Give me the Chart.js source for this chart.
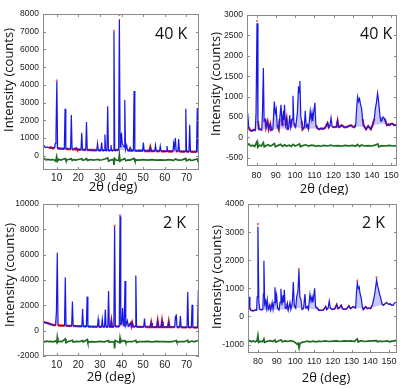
<!DOCTYPE html>
<html>
<head>
<meta charset="utf-8">
<script src="https://cdn.jsdelivr.net/npm/chart.js@4.4.1/dist/chart.umd.min.js"></script>
<style>
    html, body { margin: 0; padding: 0; background: #fff; }
    #wrap { position: relative; width: 408px; height: 389px; overflow: hidden; }
    #wrap canvas { position: absolute; }
</style>
</head>
<body>
<div id="wrap">
    <canvas id="c40low" width="204" height="195" style="left:0;top:0"></canvas>
    <canvas id="c40high" width="204" height="195" style="left:204px;top:0"></canvas>
    <canvas id="c2low" width="204" height="194" style="left:0;top:195px"></canvas>
    <canvas id="c2high" width="204" height="194" style="left:204px;top:195px"></canvas>
</div>
<script>
// [2theta, counts]; the profile serves both the observed and calculated curves
const profile40kLow = [[3.7,520],[4.3,560],[4.8,470],[5.6,500],[6.5,450],[7.4,470],[8.3,430],[9.0,440],[9.4,700],[9.7,1200],[10.1,4200],[10.45,420],[11.5,410],[12.5,400],[13.55,395],[13.9,2650],[14.25,390],[15.3,385],[16.45,380],[16.8,2300],[17.15,375],[18.2,370],[19.0,420],[19.4,360],[20.5,350],[21.25,345],[21.6,1300],[21.95,340],[23.45,335],[23.8,1900],[24.15,330],[25.5,325],[27,320],[28.55,315],[28.9,700],[29.25,310],[30.45,310],[30.8,750],[31.15,305],[31.95,305],[32.3,1200],[32.65,305],[33.25,305],[33.6,2800],[33.95,305],[34.75,300],[35.1,600],[35.45,300],[36.15,300],[36.5,7000],[36.85,300],[37.5,330],[38.65,330],[39.0,7700],[39.35,500],[39.7,1200],[40.0,1250],[40.3,700],[41.15,500],[41.5,3150],[41.85,350],[42.4,600],[42.75,310],[43.6,300],[44,400],[44.4,300],[45.45,290],[45.8,3650],[46.15,290],[47.5,285],[48.5,300],[49.75,285],[50.1,750],[50.45,280],[51.5,275],[52.5,290],[52.95,280],[53.3,450],[53.65,275],[54.5,270],[55.35,270],[55.7,600],[56.05,265],[57.55,265],[57.9,550],[58.25,260],[59.5,255],[60.65,255],[61.0,550],[61.35,250],[62.5,250],[63.75,250],[64.1,700],[64.4,450],[64.9,1000],[65.25,260],[66.05,260],[66.4,950],[66.75,245],[68,240],[69.35,240],[69.7,2650],[70.05,240],[71.15,235],[71.5,1750],[71.85,235],[73.0,230],[74.65,230],[75.0,2700],[75.35,225],[75.8,225]];
const background40kLow = [[3.7,520],[9,440],[13,400],[20,350],[30,310],[40,310],[50,285],[60,260],[70,240],[75.8,228]];
const diff40kLow = [[3.7,-180],[4.3,-150],[5,-230],[6,-200],[7,-230],[8,-210],[9,-240],[9.6,-300],[10.0,-50],[10.4,-300],[11,-200],[12,-240],[13.9,-150],[14.3,-260],[15,-220],[16.8,-170],[17.2,-260],[18,-220],[19,-240],[20,-210],[21.6,-160],[22,-250],[23,-220],[23.8,-150],[24.2,-260],[25,-230],[26,-210],[27,-240],[28,-220],[29,-200],[30,-240],[31,-220],[32.3,-180],[33.6,-120],[34,-300],[35,-240],[36.3,-200],[36.5,-520],[36.8,-150],[37.5,-240],[38.7,-260],[39.0,60],[39.3,-300],[40,-230],[41.5,-160],[42,-280],[43,-230],[44,-240],[45.8,-150],[46.2,-280],[47,-230],[48,-240],[50,-210],[52,-240],[54,-220],[56,-240],[58,-230],[60,-240],[62,-220],[64,-260],[65,-180],[66,-240],[68,-230],[69.7,-150],[70,-280],[71.5,-190],[72,-250],[73,-240],[75,-180],[75.3,-270],[75.8,-230]];
const tops40kLow = [[10.1,4250],[36.5,7050],[39.0,7950]];

const profile40kHigh = [[75,250],[75.2,450],[75.5,600],[75.9,250],[76.5,180],[77.5,160],[78.5,190],[79.3,170],[79.7,600],[80.2,2800],[80.7,400],[81.2,200],[82,200],[82.7,180],[83.1,700],[83.5,1700],[83.9,400],[84.5,430],[84.9,250],[85.7,380],[86.3,200],[87.1,320],[87.6,180],[88.4,200],[88.8,500],[89.2,880],[89.7,600],[90.2,700],[90.7,300],[91.5,200],[92.0,450],[92.7,800],[93.2,300],[93.5,450],[94.0,650],[94.2,420],[94.5,800],[95.0,300],[95.6,450],[96.1,200],[96.6,200],[97.2,550],[97.7,250],[98.4,450],[98.9,1020],[99.4,350],[100.3,250],[101.2,600],[101.8,1250],[102.1,1100],[102.5,1380],[103.0,500],[103.4,400],[103.9,200],[104.8,250],[105.3,650],[105.8,250],[106.5,300],[107.0,200],[107.9,650],[108.4,450],[108.8,600],[109.2,400],[109.5,550],[110.3,850],[110.8,300],[111.7,220],[112.5,200],[113.5,220],[114.5,210],[115.5,230],[116.9,350],[117.5,250],[118.2,300],[118.7,480],[119.3,260],[120.4,250],[121.5,260],[122.1,400],[122.6,260],[123,250],[124.2,300],[125.6,250],[127,260],[129,300],[130,260],[130.8,250],[131.5,300],[132.0,700],[132.5,1000],[133.0,880],[133.5,950],[134.0,820],[134.6,700],[135.1,450],[135.6,300],[136.9,200],[138.0,280],[139.4,200],[140.3,300],[141.2,450],[141.7,700],[142.3,850],[142.9,1080],[143.4,900],[143.8,700],[144.2,500],[144.6,400],[145.2,420],[145.8,500],[146.7,450],[147.3,350],[147.8,300],[148.5,320],[149.0,300],[149.8,330],[150.7,330],[151.5,300],[152.4,300],[153,320]];
const background40kHigh = [[75,250],[76.5,180],[79,190],[82,200],[88,200],[91,210],[96,210],[100,250],[104,220],[107,220],[112,210],[116,240],[120,260],[125,260],[130,270],[136,250],[140,300],[147,330],[153,330]];
const diff40kHigh = [[75,-200],[76,-160],[77,-210],[78,-190],[79,-220],[80.2,-100],[80.6,-240],[81.5,-190],[82.5,-210],[83.5,-130],[84,-230],[85,-200],[86,-180],[87,-210],[88,-190],[89.2,-150],[89.8,-230],[91,-200],[92.5,-170],[93.5,-220],[94.5,-180],[95.5,-210],[97,-190],[98,-220],[99,-170],[100,-210],[101,-190],[102.3,-160],[102.8,-230],[104,-200],[105.5,-180],[107,-210],[108.5,-190],[110,-200],[111,-220],[112,-200],[113.5,-215],[115,-195],[117,-210],[118.5,-190],[120,-210],[122,-200],[124,-215],[126,-195],[128,-205],[130,-195],[131.5,-215],[132.5,-170],[133.5,-225],[134.5,-185],[136,-210],[138,-200],[140,-210],[141.5,-190],[143,-160],[143.5,-230],[145,-200],[147,-210],[149,-195],[151,-210],[153,-200]];
const tops40kHigh = [[80.2,2850]];

const profile2kLow = [[3.7,700],[4.5,660],[5.5,620],[6.5,560],[7.5,500],[8.5,450],[9.5,430],[9.9,1500],[10.3,6150],[10.65,420],[11.5,410],[12.5,400],[13.65,400],[14.0,4230],[14.35,390],[15.5,380],[16.95,375],[17.3,2300],[17.65,370],[19,360],[20.5,350],[21.65,345],[22.0,1720],[22.35,340],[23.75,335],[24.1,2690],[24.45,330],[26,320],[28.85,310],[29.2,900],[29.55,305],[30.75,305],[31.1,900],[31.45,305],[32.15,305],[32.5,1670],[32.85,305],[33.65,305],[34.0,3130],[34.35,305],[35.0,320],[35.3,700],[35.6,310],[36.45,310],[36.8,8250],[37.15,330],[38.95,330],[39.3,9050],[39.65,500],[40.1,600],[40.5,1790],[40.85,500],[41.25,400],[41.6,3920],[41.95,400],[42.7,800],[43.1,350],[44.3,600],[44.6,400],[44.9,600],[45.3,330],[46.25,320],[46.6,4360],[46.95,310],[48,300],[49.5,300],[50.25,300],[50.6,950],[50.95,300],[52,290],[53.35,290],[53.7,600],[54.05,290],[55.5,285],[56.35,285],[56.7,700],[57.05,285],[58.35,285],[58.7,700],[59.05,280],[60.5,280],[61.45,280],[61.8,650],[62.15,280],[63.5,280],[64.55,280],[64.9,1150],[65.1,800],[65.3,1300],[65.65,280],[66.85,280],[67.2,1150],[67.55,270],[69,265],[70.25,265],[70.6,3050],[70.95,265],[72.25,260],[72.6,2050],[72.95,260],[74,250],[75.15,250],[75.5,3250],[75.8,600]];
const background2kLow = [[3.7,700],[6.5,560],[9.5,430],[15,385],[20,350],[30,310],[40,330],[50,300],[60,285],[70,268],[75.8,255]];
const diff2kLow = [[3.7,-820],[4.5,-880],[5.5,-830],[6.5,-870],[7.5,-840],[8.5,-880],[9.5,-820],[10.1,-950],[10.3,-550],[10.6,-900],[11.5,-840],[12.5,-870],[14.0,-650],[14.3,-950],[15.5,-850],[17.3,-760],[17.6,-900],[19,-850],[20.5,-870],[22,-780],[22.3,-900],[24.1,-700],[24.4,-920],[26,-860],[28,-880],[30,-850],[32,-880],[34,-780],[34.3,-920],[35.5,-860],[36.6,-900],[36.8,-1400],[37.0,-780],[38,-860],[39.1,-950],[39.3,-600],[39.6,-920],[40.5,-800],[41.6,-780],[41.9,-920],[43,-860],[45,-870],[46.6,-760],[46.9,-920],[48,-860],[50,-870],[52,-850],[54,-880],[56,-850],[58,-870],[60,-860],[62,-880],[64,-850],[65.3,-780],[65.6,-900],[67,-860],[69,-870],[70.6,-760],[70.9,-920],[72.6,-820],[73.5,-880],[75.5,-780],[75.8,-860]];
const tops2kLow = [[39.3,9100],[36.8,8300]];

const profile2kHigh = [[74.7,250],[75.0,450],[75.3,700],[75.7,300],[76.3,220],[77.5,200],[78.5,230],[79.3,220],[79.6,700],[80.0,3200],[80.5,500],[81.0,250],[82,240],[82.6,250],[82.9,800],[83.2,1980],[83.6,450],[84.1,560],[84.5,300],[85.0,600],[85.5,250],[86.3,400],[86.8,220],[87.6,500],[88.1,250],[88.6,500],[89.1,1040],[89.6,550],[90.0,750],[90.5,300],[91.3,230],[91.8,500],[92.3,990],[92.8,400],[93.4,750],[93.7,500],[94.1,950],[94.6,300],[95.2,300],[95.7,450],[96.2,220],[97.1,500],[97.6,250],[98.4,500],[98.9,1230],[99.4,400],[100.2,300],[100.7,700],[101.4,900],[101.9,1650],[102.4,700],[103.0,600],[103.6,250],[104.4,300],[105.1,800],[105.6,300],[106.4,350],[107.0,250],[107.8,790],[108.4,550],[108.9,700],[109.3,500],[109.6,600],[110.3,1000],[110.8,350],[111.7,300],[112.5,220],[113.5,220],[115,230],[116.2,350],[116.8,250],[117.5,300],[118.1,550],[118.7,300],[119.7,250],[121,270],[122.1,430],[122.7,280],[123.3,300],[124.5,400],[125.2,280],[126,250],[127.5,280],[128.6,380],[129.5,280],[130.9,350],[132.2,300],[132.6,800],[133.1,1200],[133.6,1000],[134.1,1050],[134.6,800],[135.2,650],[135.8,350],[136.3,250],[137.6,350],[138.5,280],[139.3,300],[140.2,280],[141.1,400],[141.8,600],[142.4,800],[142.9,1050],[143.4,1300],[143.9,1100],[144.3,1000],[145.0,800],[145.6,650],[146.3,450],[147,400],[147.9,450],[148.8,500],[149.7,430],[150.6,450],[151.5,400],[152.3,400],[153.0,480],[153.8,500],[154.3,450]];
const background2kHigh = [[74.7,250],[76,230],[80,230],[87,230],[91,240],[96,240],[100,300],[104,280],[107,280],[112,230],[116,260],[120,280],[126,270],[131,330],[136,270],[140,300],[147,420],[154.3,470]];
const diff2kHigh = [[74.7,-900],[75.5,-860],[76.5,-900],[77.5,-870],[78.5,-900],[79.5,-870],[80.0,-680],[80.4,-920],[81.5,-880],[82.5,-900],[83.2,-800],[83.6,-920],[85,-880],[86.5,-860],[88,-890],[89.1,-840],[89.6,-910],[91,-870],[92.3,-830],[93,-900],[94.5,-870],[96,-890],[97.5,-860],[99,-890],[100,-930],[100.8,-980],[101.5,-950],[102.0,-1120],[102.5,-960],[103.5,-920],[105,-900],[106.5,-880],[108,-900],[109.5,-880],[111,-900],[112.5,-880],[114,-890],[116,-870],[118,-890],[120,-880],[122,-870],[124,-890],[126,-870],[128,-880],[130,-870],[131.5,-890],[133.1,-800],[133.6,-910],[135,-860],[137,-890],[139,-880],[141,-870],[143.4,-860],[143.8,-900],[145,-880],[147,-890],[149,-870],[150.5,-900],[151.5,-880],[153,-870],[154.3,-830]];
const tops2kHigh = [[80.0,3290],[133.1,1260],[143.4,1390],[101.9,1690]];

// axis tick labels
const xTicksLow = [10, 20, 30, 40, 50, 60, 70];
const xTicksHigh = [80, 90, 100, 110, 120, 130, 140, 150];
const yTicks40kLow = [0, 1000, 2000, 3000, 4000, 5000, 6000, 7000, 8000];
const yTicks40kHigh = [-500, 0, 500, 1000, 1500, 2000, 2500, 3000];
const yTicks2kLow = [-2000, 0, 2000, 4000, 6000, 8000, 10000];
const yTicks2kHigh = [-1000, 0, 1000, 2000, 3000, 4000];

const RED = "#e0202c";
const BLUE = "#1818e4";
const FILL_BLUE = "rgba(130, 130, 240, 0.45)";
const GREEN = "#1d6b22";
const TITLE_FONT = "\"Open Sans\", \"DejaVu Sans\", sans-serif";
const TICK_FONT = "\"Liberation Sans\", Arial, sans-serif";

const toPoints = pairs => pairs.map(p => ({x: p[0], y: p[1]}));

const framePlugin = {
    id: "frame",
    afterDatasetsDraw(chart) {
        const {ctx, chartArea: a, scales} = chart;
        ctx.save();
        ctx.strokeStyle = "#8a8a8a";
        ctx.lineWidth = 1;
        ctx.strokeRect(Math.round(a.left) + 0.5, Math.round(a.top) + 0.5,
            Math.round(a.width) - 1, Math.round(a.height) - 1);
        ctx.beginPath();
        scales.x.ticks.forEach(t => {
            const px = Math.round(scales.x.getPixelForValue(t.value)) + 0.5;
            ctx.moveTo(px, a.bottom); ctx.lineTo(px, a.bottom - 3);
            ctx.moveTo(px, a.top); ctx.lineTo(px, a.top + 3);
        });
        scales.y.ticks.forEach(t => {
            const py = Math.round(scales.y.getPixelForValue(t.value)) + 0.5;
            ctx.moveTo(a.left, py); ctx.lineTo(a.left + 3, py);
            ctx.moveTo(a.right, py); ctx.lineTo(a.right - 3, py);
        });
        ctx.stroke();
        ctx.restore();
    }
};

const makeTextPlugin = function (items) {
    return {
        id: "panelText",
        afterDraw(chart) {
            const ctx = chart.ctx;
            items.forEach(item => {
                ctx.save();
                ctx.font = `${item.size}px ${TITLE_FONT}`;
                ctx.fillStyle = "#111";
                ctx.textAlign = item.align || "center";
                ctx.textBaseline = "middle";
                ctx.translate(item.x, item.y);
                if (item.rotate) {
                    ctx.rotate(-Math.PI / 2);
                }
                ctx.fillText(item.text, 0, 0);
                ctx.restore();
            });
        }
    };
};

const buildPanel = function (canvasId, p) {
    // the dense red observed dots only read as a band along the background
    const obsColor = seg => Math.max(seg.p0.parsed.y, seg.p1.parsed.y) > p.obsLimit ? "rgba(0, 0, 0, 0)" : RED;

    return new Chart(document.getElementById(canvasId).getContext("2d"), {
        type: "line",
        data: {
            datasets: [
                {
                    label: "Observed (peak maxima)",
                    data: toPoints(p.tops),
                    showLine: false,
                    pointRadius: 1.2,
                    pointBorderWidth: 0,
                    pointBackgroundColor: "rgba(240, 80, 80, 0.8)",
                    order: 0
                },
                {
                    label: "Difference",
                    data: toPoints(p.diff),
                    borderColor: GREEN,
                    borderWidth: 1.7,
                    pointRadius: 0,
                    order: 1
                },
                {
                    label: "Calculated",
                    data: toPoints(p.profile),
                    borderColor: BLUE,
                    borderWidth: 1.2,
                    pointRadius: 0,
                    fill: {target: 4, above: FILL_BLUE, below: "rgba(0, 0, 0, 0)"},
                    order: 2
                },
                {
                    label: "Observed",
                    data: toPoints(p.profile),
                    borderColor: RED,
                    borderWidth: p.obsWidth,
                    segment: {borderColor: obsColor},
                    pointRadius: 0,
                    order: 3
                },
                {
                    label: "Background",
                    data: toPoints(p.background),
                    borderColor: "rgba(0, 0, 0, 0)",
                    borderWidth: 0,
                    pointRadius: 0,
                    order: 4
                }
            ]
        },
        options: {
            responsive: false,
            animation: false,
            events: [],
            layout: {padding: {top: p.padTop, right: p.padRight, left: 0, bottom: 0}},
            plugins: {legend: {display: false}, tooltip: {enabled: false}},
            scales: {
                x: {
                    type: "linear",
                    min: p.xMin,
                    max: p.xMax,
                    grid: {display: false, drawTicks: false},
                    border: {display: false},
                    afterBuildTicks: scale => { scale.ticks = p.xTicks.map(v => ({value: v})); },
                    afterFit: scale => { scale.height = p.xAxisHeight; },
                    ticks: {
                        autoSkip: false,
                        maxRotation: 0,
                        padding: p.xTickPad,
                        color: "#222",
                        font: {family: TICK_FONT, size: p.xTickSize},
                        callback: v => String(v)
                    }
                },
                y: {
                    type: "linear",
                    min: p.yMin,
                    max: p.yMax,
                    grid: {display: false, drawTicks: false},
                    border: {display: false},
                    afterBuildTicks: scale => { scale.ticks = p.yTicks.map(v => ({value: v})); },
                    afterFit: scale => { scale.width = p.yAxisWidth; },
                    ticks: {
                        autoSkip: false,
                        padding: 4,
                        color: "#222",
                        font: {family: TICK_FONT, size: 8.5},
                        callback: v => String(v)
                    }
                }
            }
        },
        plugins: [framePlugin, makeTextPlugin(p.texts)]
    });
};

buildPanel("c40low", {
    profile: profile40kLow, background: background40kLow, diff: diff40kLow, tops: tops40kLow,
    obsWidth: 2.6, obsLimit: 480,
    xMin: 3.7, xMax: 75.8, yMin: -800, yMax: 8000,
    xTicks: xTicksLow, yTicks: yTicks40kLow,
    padTop: 14, padRight: 5, yAxisWidth: 43, xAxisHeight: 25, xTickPad: 2, xTickSize: 10,
    texts: [
        {text: "Intensity (counts)", x: 9, y: 80, size: 13, rotate: true},
        {text: "2θ (deg)", x: 113, y: 187, size: 13},
        {text: "40 K", x: 155, y: 34, size: 16, align: "left"}
    ]
});

buildPanel("c40high", {
    profile: profile40kHigh, background: background40kHigh, diff: diff40kHigh, tops: tops40kHigh,
    obsWidth: 2.2, obsLimit: 460,
    xMin: 75, xMax: 153, yMin: -700, yMax: 3000,
    xTicks: xTicksHigh, yTicks: yTicks40kHigh,
    padTop: 15, padRight: 11, yAxisWidth: 43, xAxisHeight: 29, xTickPad: 4, xTickSize: 9,
    texts: [
        {text: "Intensity (counts)", x: 12, y: 84, size: 13, rotate: true},
        {text: "2θ (deg)", x: 120, y: 189, size: 13},
        {text: "40 K", x: 156, y: 34, size: 16, align: "left"}
    ]
});

buildPanel("c2low", {
    profile: profile2kLow, background: background2kLow, diff: diff2kLow, tops: tops2kLow,
    obsWidth: 2.4, obsLimit: 720,
    xMin: 3.7, xMax: 75.8, yMin: -2000, yMax: 10000,
    xTicks: xTicksLow, yTicks: yTicks2kLow,
    padTop: 5, padRight: 5, yAxisWidth: 43, xAxisHeight: 33, xTickPad: 3, xTickSize: 10,
    texts: [
        {text: "Intensity (counts)", x: 10, y: 80, size: 13, rotate: true},
        {text: "2θ (deg)", x: 111, y: 182, size: 13},
        {text: "2 K", x: 163, y: 28, size: 16, align: "left"}
    ]
});

buildPanel("c2high", {
    profile: profile2kHigh, background: background2kHigh, diff: diff2kHigh, tops: tops2kHigh,
    obsWidth: 1.6, obsLimit: 460,
    xMin: 74.7, xMax: 154.3, yMin: -1300, yMax: 4000,
    xTicks: xTicksHigh, yTicks: yTicks2kHigh,
    padTop: 8, padRight: 11, yAxisWidth: 44, xAxisHeight: 36, xTickPad: 3, xTickSize: 9,
    texts: [
        {text: "Intensity (counts)", x: 13, y: 82, size: 13, rotate: true},
        {text: "2θ (deg)", x: 122, y: 183, size: 13},
        {text: "2 K", x: 158, y: 28, size: 16, align: "left"}
    ]
});
</script>
</body>
</html>
